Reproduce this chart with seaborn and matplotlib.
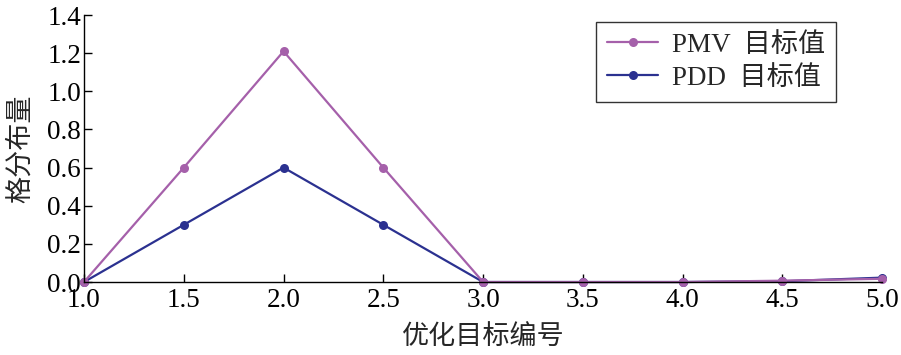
import matplotlib
matplotlib.use("Agg")
import matplotlib.pyplot as plt
import pandas as pd
import numpy as np
import seaborn as sns

# 数据
x_vals = [1.0, 1.5, 2.0, 2.5, 3.0, 3.5, 4.0, 4.5, 5.0]
pmv_vals = [0.0, 0.6, 1.21, 0.6, 0.0, 0.0, 0.0, 0.007, 0.017]
pdd_vals = [0.0, 0.3, 0.6, 0.3, 0.0, 0.0, 0.0, 0.004, 0.023]
series_names = ["PMV  目标值", "PDD  目标值"]
x_label = "优化目标编号"
y_label = "格分布量"

sns.set_theme(style="ticks")
plt.rcParams['font.family'] = ['Liberation Serif', 'Noto Sans CJK SC']

df = pd.DataFrame({
    "x": x_vals * 2,
    "y": pmv_vals + pdd_vals,
    "s": [series_names[0]] * len(x_vals) + [series_names[1]] * len(x_vals),
})

fig = plt.figure(figsize=(9.01, 3.55), dpi=100)
ax = fig.add_axes([0.0932, 0.2056, 0.886, 0.752])

palette = {series_names[0]: "#A560AA", series_names[1]: "#2B3190"}
sns.lineplot(data=df, x="x", y="y", hue="s", hue_order=series_names[::-1],
             palette=palette, marker="o", markersize=6.5, markeredgewidth=0,
             linewidth=1.6, ax=ax, clip_on=False)

ax.set_xlim(1.0, 5.0)
ax.set_ylim(0.0, 1.4)
ax.set_xticks(np.arange(1.0, 5.01, 0.5))
ax.set_yticks(np.arange(0.0, 1.41, 0.2))
ax.set_xticklabels([f"{v:.1f}" for v in np.arange(1.0, 5.01, 0.5)])
ax.set_yticklabels([f"{v:.1f}" for v in np.arange(0.0, 1.41, 0.2)])
ax.tick_params(direction="in", length=6, width=1, labelsize=19.5,
               colors="black")
ax.tick_params(axis="x", pad=4)
ax.tick_params(axis="y", pad=2)
sns.despine(ax=ax)
for sp in ["left", "bottom"]:
    ax.spines[sp].set_linewidth(1.0)
    ax.spines[sp].set_color("black")

ax.set_xlabel(x_label, fontsize=19.5, labelpad=9)
ax.set_ylabel(y_label, fontsize=19.5, labelpad=10)

handles, labels = ax.get_legend_handles_labels()
order = [labels.index(n) for n in series_names]
leg = ax.legend([handles[i] for i in order], [labels[i] for i in order],
                loc="upper right", bbox_to_anchor=(0.942, 0.974), fontsize=19.5,
                borderaxespad=0, frameon=True, fancybox=False,
                edgecolor="black", handlelength=1.9, handletextpad=0.5,
                borderpad=0.4, labelspacing=0.3)
leg.get_frame().set_linewidth(1.0)

fig.savefig("out.png", dpi=100)
